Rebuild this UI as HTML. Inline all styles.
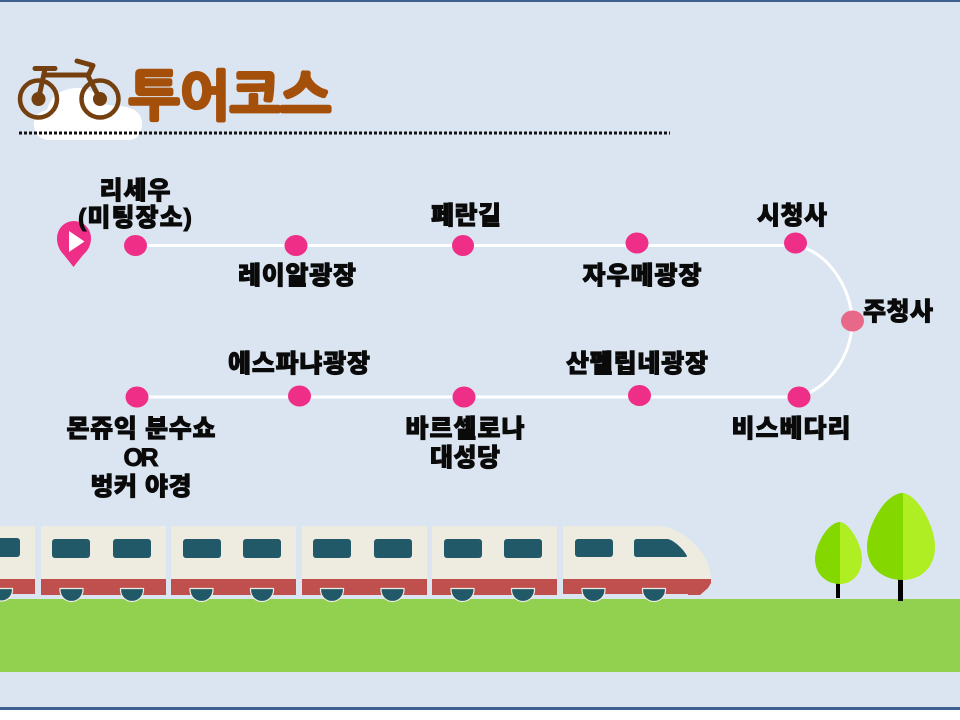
<!DOCTYPE html>
<html><head><meta charset="utf-8">
<style>
html,body{margin:0;padding:0;background:#fff;width:960px;height:720px;overflow:hidden}
svg{display:block}
.t{font-family:"Liberation Sans","Noto Sans CJK KR",sans-serif;font-weight:900;font-size:25px;fill:#0a0a0a;stroke:#0a0a0a;stroke-width:.9px;text-anchor:middle}
</style></head><body>
<svg width="960" height="720" viewBox="0 0 960 720" xmlns="http://www.w3.org/2000/svg">
<rect width="960" height="710" fill="#dbe5f1"/>
<rect width="960" height="2" fill="#3f6190"/>
<rect y="707" width="960" height="3" fill="#3f6190"/>
<rect y="599" width="960" height="73" fill="#92d050"/>

<!-- cloud -->
<path d="M48 140Q33 138 34 122Q36 112 47 110Q52 90 75 88Q95 87 104 104Q112 106 120 106Q142 108 142 124Q142 138 130 140Z" fill="#fff"/>
<!-- bike -->
<g fill="none" stroke="#74400f" stroke-width="4.500" stroke-linecap="round" stroke-linejoin="round">
<circle cx="38.500" cy="99" r="18.500"/><circle cx="100" cy="99" r="18.500"/>
<path d="M35 68.500H55M45 69L38.500 99M44 75H88" stroke-width="5"/>
<path d="M77 61L93 65.500L88 76L100 99" stroke-width="5"/>
</g>
<circle cx="38.500" cy="99" r="7" fill="#74400f"/><circle cx="100" cy="99" r="7" fill="#74400f"/>
<!-- title -->
<text x="129" y="115" textLength="202" lengthAdjust="spacingAndGlyphs" style="font-family:'NanumGothic','Noto Sans CJK KR',sans-serif;font-weight:700;font-size:54px;fill:#a5500a;stroke:#a5500a;stroke-width:3.500px;stroke-linejoin:round">투어코스</text>
<!-- dotted -->
<path d="M19 133H670" stroke="#111" stroke-width="3" stroke-dasharray="3 2" fill="none"/>

<!-- route -->
<path d="M135 245.500H795C828 250 852 290 852 321C852 355 830 387 799 397H137" fill="none" stroke="#fff" stroke-width="3"/>
<g fill="#ee2e87">
<ellipse cx="135.500" cy="245.500" rx="11.500" ry="10.500"/>
<ellipse cx="296" cy="245.500" rx="11.500" ry="10.500"/>
<ellipse cx="463" cy="245.500" rx="11" ry="10.500"/>
<ellipse cx="637" cy="243" rx="11.500" ry="10.500"/>
<ellipse cx="795.500" cy="243" rx="11.500" ry="10.500"/>
<ellipse cx="799" cy="397" rx="11.500" ry="10.500"/>
<ellipse cx="639.500" cy="395.500" rx="11.500" ry="10.500"/>
<ellipse cx="464" cy="397" rx="11.500" ry="10.500"/>
<ellipse cx="299.500" cy="396" rx="11.500" ry="10.500"/>
<ellipse cx="137" cy="397" rx="11.500" ry="10.500"/>
</g>
<ellipse cx="852.500" cy="321" rx="11.500" ry="10.500" fill="#e8688a"/>
<!-- pin -->
<path d="M57 238A17 17 0 0 1 91 238Q91 248 83 255L73.500 267L64 255Q57 248 57 238Z" fill="#ee2e87"/>
<path d="M69 231L84.500 241.500L69 252Z" fill="#fff"/>

<!-- labels -->
<g>
<text class="t" x="135" y="199" textLength="71">리세우</text>
<text class="t" x="135" y="226" textLength="114">(미팅장소)</text>
<text class="t" x="297" y="284" textLength="118">레이알광장</text>
<text class="t" x="466" y="224" textLength="70">페란길</text>
<text class="t" x="642" y="284" textLength="119">자우메광장</text>
<text class="t" x="792" y="224" textLength="70">시청사</text>
<text class="t" x="898" y="320" textLength="70">주청사</text>
<text class="t" x="299" y="372" textLength="142">에스파냐광장</text>
<text class="t" x="637" y="372" textLength="142">산펠립네광장</text>
<text class="t" x="791" y="437" textLength="119">비스베다리</text>
<text class="t" x="465" y="437" textLength="119">바르셀로나</text>
<text class="t" x="465" y="466" textLength="70">대성당</text>
<text class="t" x="141" y="437" textLength="149">몬쥬익 분수쇼</text>
<text class="t" x="141" y="466" textLength="35">OR</text>
<text class="t" x="141" y="495" textLength="101">벙커 야경</text>
</g>

<!-- train -->
<g fill="#eeece1">
<rect x="-5" y="526" width="40" height="54"/>
<rect x="41" y="526" width="125" height="54"/>
<rect x="171" y="526" width="125" height="54"/>
<rect x="302" y="526" width="125" height="54"/>
<rect x="432" y="526" width="125" height="54"/>
<path d="M563 526H660C682 528 711 552 711 580H563Z"/>
</g>
<g fill="#c0504d">
<rect x="-5" y="579" width="40" height="15"/>
<rect x="41" y="579" width="125" height="16"/>
<rect x="171" y="579" width="125" height="16"/>
<rect x="302" y="579" width="125" height="16"/>
<rect x="432" y="579" width="125" height="16"/>
<path d="M563 579H711V583L708 588L700 595H688V594H563Z"/>
</g>
<g fill="#215968">
<rect x="-5" y="538" width="25" height="19" rx="3"/>
<rect x="52" y="539" width="38" height="19" rx="3"/><rect x="113" y="539" width="38" height="19" rx="3"/>
<rect x="183" y="539" width="38" height="19" rx="3"/><rect x="243" y="539" width="38" height="19" rx="3"/>
<rect x="313" y="539" width="38" height="19" rx="3"/><rect x="374" y="539" width="38" height="19" rx="3"/>
<rect x="444" y="539" width="38" height="19" rx="3"/><rect x="504" y="539" width="38" height="19" rx="3"/>
<rect x="575" y="539" width="38" height="18" rx="3"/>
<path d="M637 539H668C675 541 684 550 687 556Q687 557 685 557H637Q634 557 634 554V542Q634 539 637 539Z"/>
</g>
<g fill="#215968" stroke="#eeece1" stroke-width="1.200">
<path d="M-9.500 588.500H12.500V590A11 11 0 0 1 -9.500 590Z"/>
<path d="M60 588.500H83V590A11.500 11.500 0 0 1 60 590Z"/>
<path d="M120.500 588.500H143.500V590A11.500 11.500 0 0 1 120.500 590Z"/>
<path d="M190 588.500H213V590A11.500 11.500 0 0 1 190 590Z"/>
<path d="M250.500 588.500H273.500V590A11.500 11.500 0 0 1 250.500 590Z"/>
<path d="M320.500 588.500H343.500V590A11.500 11.500 0 0 1 320.500 590Z"/>
<path d="M381 588.500H404V590A11.500 11.500 0 0 1 381 590Z"/>
<path d="M451 588.500H474V590A11.500 11.500 0 0 1 451 590Z"/>
<path d="M511.500 588.500H534.500V590A11.500 11.500 0 0 1 511.500 590Z"/>
<path d="M582 588.500H605V590A11.500 11.500 0 0 1 582 590Z"/>
<path d="M642.500 588.500H665.500V590A11.500 11.500 0 0 1 642.500 590Z"/>
</g>

<!-- trees -->
<rect x="836" y="583" width="4" height="15" fill="#000"/>
<rect x="898" y="579" width="5" height="22" fill="#000"/>
<path d="M840 522C828 522 815 545 815 559C815 574 826 584 840 584Z" fill="#84d800"/>
<path d="M840 522C850 523 862 545 862 559C862 574 852 584 840 584Z" fill="#aeee22"/>
<path d="M903 493C885 493 867 526 867 547C867 567 882 580 903 580Z" fill="#84d800"/>
<path d="M903 493C918 495 935 526 935 547C935 567 921 580 903 580Z" fill="#aeee22"/>
</svg>
</body></html>
